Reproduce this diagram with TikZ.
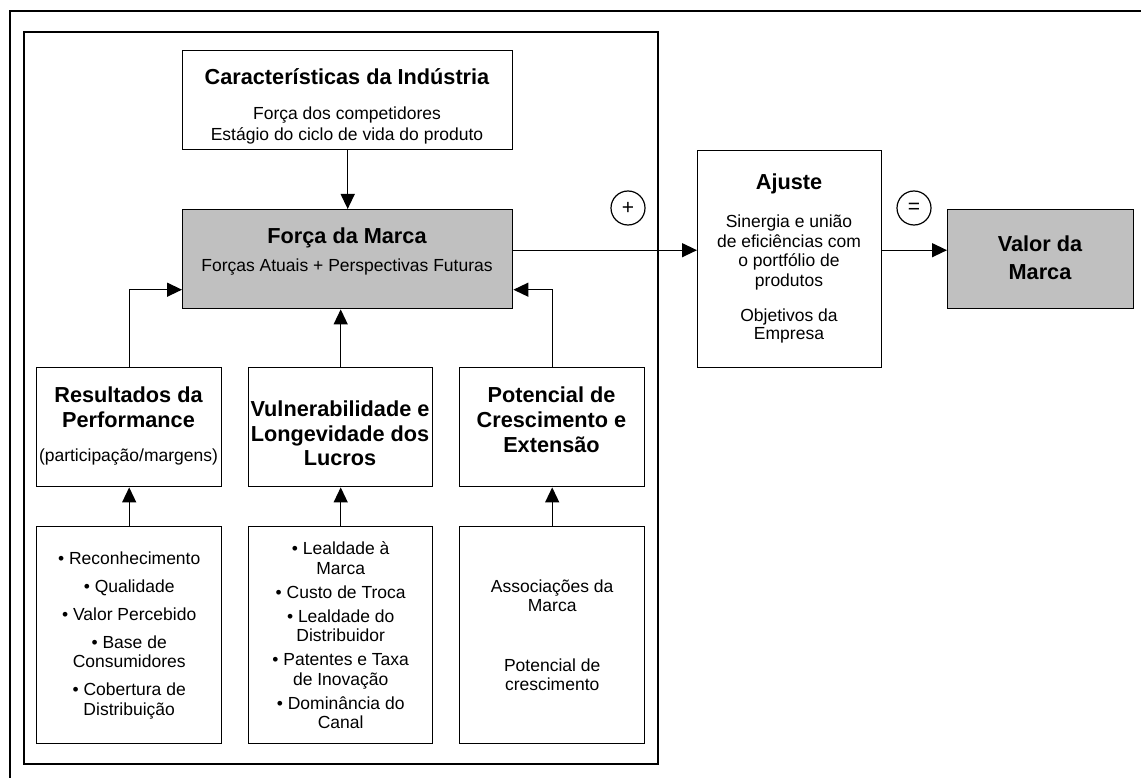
\documentclass[tikz,border=0pt]{standalone}
\usepackage{fontspec}
\setmainfont{Liberation Sans}
\usetikzlibrary{arrows.meta}
\definecolor{boxgray}{RGB}{192,192,192}
% title and body type sizes
\newcommand{\ttl}{\fontsize{21.7}{25}\selectfont\bfseries}
\newcommand{\bdy}{\fontsize{17.5}{19.5}\selectfont}

\begin{document}
\begin{tikzpicture}[x=1pt,y=-1pt,
  panel/.style={draw, line width=1.4pt, inner sep=0pt, anchor=north west, align=center},
  shaded/.style={panel, fill=boxgray},
  frameline/.style={line width=1.8pt},
  conn/.style={line width=1.3pt, -{Triangle[length=15pt,width=14pt]}},
  plain/.style={line width=1.3pt},
  ttltext/.style={inner sep=0pt, align=center, font=\ttl},
  bdytext/.style={inner sep=0pt, align=center, font=\bdy},
  op/.style={draw, circle, line width=1.2pt, minimum size=34pt, inner sep=0pt, font=\fontsize{21}{21}\selectfont}
]
\useasboundingbox (0,0) rectangle (1141,778);

% page frame (top and left edges) and the brand-strength panel
\draw[frameline] (1141,11) -- (10,11) -- (10,778);
\node[panel, line width=1.8pt, minimum width=634pt, minimum height=732pt] (panel) at (23,31) {};

% boxes
\node[panel,  minimum width=330pt, minimum height=99pt]  (car)    at (182,50)  {};
\node[shaded, minimum width=330pt, minimum height=99pt]  (forca)  at (182,209) {};
\node[panel,  minimum width=184pt, minimum height=217pt] (ajuste) at (697,150) {};
\node[shaded, minimum width=186pt, minimum height=99pt]  (valor)  at (947,209) {};

\node[panel, minimum width=185pt, minimum height=119pt] (res) at (36,367)  {};
\node[panel, minimum width=184pt, minimum height=119pt] (vul) at (248,367) {};
\node[panel, minimum width=185pt, minimum height=119pt] (pot) at (459,367) {};

\node[panel, minimum width=185pt, minimum height=217pt, font=\bdy] (resL) at (36,526) {%
  \textbullet\ Reconhecimento\\[8.5pt]
  \textbullet\ Qualidade\\[8.5pt]
  \textbullet\ Valor Percebido\\[8.5pt]
  \textbullet\ Base de\\
  Consumidores\\[8.5pt]
  \textbullet\ Cobertura de\\
  Distribuição};
\node[panel, minimum width=184pt, minimum height=217pt, font=\bdy] (vulL) at (248,526) {%
  \textbullet\ Lealdade à\\
  Marca\\[4.5pt]
  \textbullet\ Custo de Troca\\[4.5pt]
  \textbullet\ Lealdade do\\
  Distribuidor\\[4.5pt]
  \textbullet\ Patentes e Taxa\\
  de Inovação\\[4.5pt]
  \textbullet\ Dominância do\\
  Canal};
\node[panel, minimum width=185pt, minimum height=217pt, font=\bdy] (potL) at (459,526) {%
  Associações da\\
  Marca\\[40pt]
  Potencial de\\
  crescimento};

% box texts
\node[ttltext] (carT) at (347,77) {Características da Indústria};
\node[bdytext, font=\fontsize{17.5}{20.7}\selectfont] (carB) at (347,125.5) {Força dos competidores\\Estágio do ciclo de vida do produto};
\node[ttltext] (forcaT) at (347,238) {Força da Marca};
\node[bdytext] (forcaB) at (347,267) {Forças Atuais + Perspectivas Futuras};
\node[ttltext] (ajusteT) at (789,184) {Ajuste};
\node[bdytext, font=\fontsize{17.5}{19.7}\selectfont] (ajusteB) at (789,252.5) {Sinergia e união\\de eficiências com\\o portfólio de\\produtos};
\node[bdytext, font=\fontsize{17.5}{18.5}\selectfont] (ajusteC) at (789,326) {Objetivos da\\Empresa};
\node[ttltext, font=\fontsize{21.7}{28}\selectfont\bfseries] (valorT) at (1040,257.5) {Valor da\\Marca};

\node[ttltext] (resT) at (128.5,407.5) {Resultados da\\Performance};
\node[bdytext] (resB) at (128.5,457) {(participação/margens)};
\node[ttltext, font=\fontsize{21.7}{24.5}\selectfont\bfseries] (vulT) at (340,433.5) {Vulnerabilidade e\\Longevidade dos\\Lucros};
\node[ttltext] (potT) at (551.5,420) {Potencial de\\Crescimento e\\Extensão};

% operators
\node[op] (plus) at (628,208) {+};
\node[op] (eq)   at (914,208) {=};

% connectors
\draw[conn] (car.south) -- (forca.north);
\draw[conn] (res.north) |- ([yshift=-30.5pt]forca.west);
\draw[conn] (pot.north) |- ([yshift=-30.5pt]forca.east);
\draw[conn] (vul.north) -- (vul.north |- forca.south);
\draw[conn] (resL.north) -- (res.south);
\draw[conn] (vulL.north) -- (vul.south);
\draw[conn] (potL.north) -- (pot.south);
\draw[conn] ([yshift=9pt]forca.east) coordinate (fo) -- (fo -| ajuste.west);
\draw[conn] ([yshift=9pt]ajuste.east) coordinate (ao) -- (ao -| valor.west);
\end{tikzpicture}
\end{document}
